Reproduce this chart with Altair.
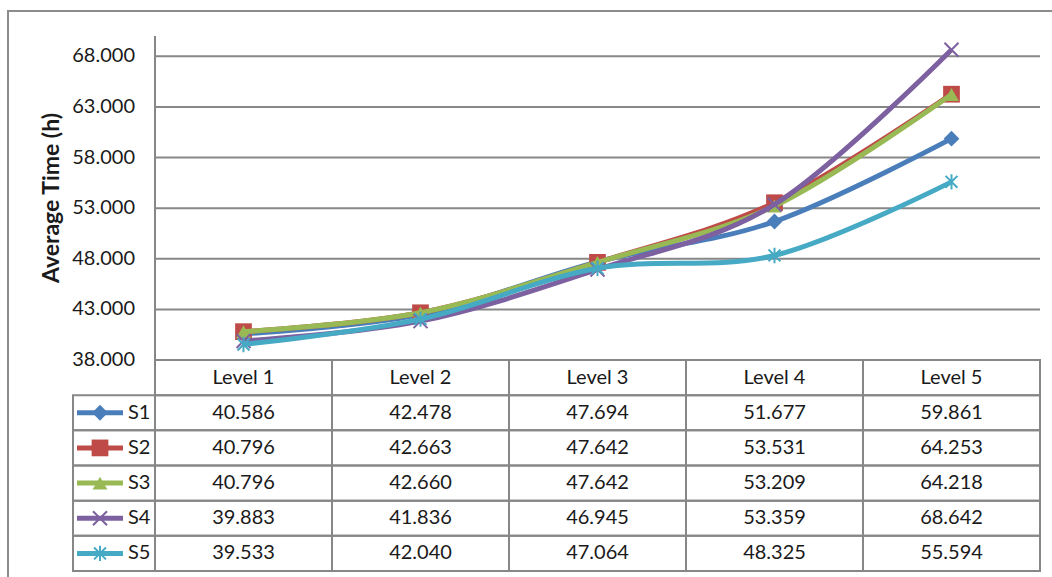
import altair as alt
import pandas as pd

# ---- data -------------------------------------------------------------
levels = ["Level 1", "Level 2", "Level 3", "Level 4", "Level 5"]
series = ["S1", "S2", "S3", "S4", "S5"]
s1 = [40.586, 42.478, 47.694, 51.677, 59.861]
s2 = [40.796, 42.663, 47.642, 53.531, 64.253]
s3 = [40.796, 42.660, 47.642, 53.209, 64.218]
s4 = [39.883, 41.836, 46.945, 53.359, 68.642]
s5 = [39.533, 42.040, 47.064, 48.325, 55.594]
y_ticks = [38, 43, 48, 53, 58, 63, 68]
y_title = "Average Time (h)"

colors = ["#4A7EBB", "#BE4B48", "#98B954", "#7D60A0", "#46AAC5"]
X_PATH = "M-1,-1L1,1M1,-1L-1,1"
STAR_PATH = "M-0.85,-0.85L0.85,0.85M0.85,-0.85L-0.85,0.85M0,-1.1L0,1.1"
markers = [
    dict(shape="diamond", filled=True, size=250),
    dict(shape="square", filled=True, size=280),
    dict(shape="triangle-up", filled=True, size=220),
    dict(shape=X_PATH, filled=False, size=196, strokeWidth=2),
    dict(shape=STAR_PATH, filled=False, size=196, strokeWidth=2),
]

values = [s1, s2, s3, s4, s5]
rows = []
for s, vals in zip(series, values):
    for i, (lv, v) in enumerate(zip(levels, vals)):
        rows.append({"series": s, "level": lv, "idx": i + 1, "value": v})
long_df = pd.DataFrame(rows)
ticks_df = pd.DataFrame({"v": y_ticks})
header_df = pd.DataFrame({"level": levels, "idx": range(1, len(levels) + 1), "row": [""] * len(levels)})
legend_df = pd.DataFrame({"series": series, "row": series})

# ---- layout -----------------------------------------------------------
W, H = 967, 535          # plot + data table
PLOT_H = 324             # height of the line area
LEGEND_COL = 82 / 177    # legend column width in level-column units
X_MIN = 0.5 - LEGEND_COL
FONT = "Lato"
GRID = "#878787"
TEXT = "#1a1a1a"

x_scale = alt.Scale(domain=[X_MIN, len(levels) + 0.5], nice=False, zero=False)
v_scale = alt.Scale(domain=[38, 70], range=[PLOT_H, 0], nice=False, zero=False)
row_scale = alt.Scale(type="band", domain=[""] + series, range=[PLOT_H, H],
                      paddingInner=0, paddingOuter=0)

layers = []

# outer frame of the chart
frame = alt.Chart(pd.DataFrame({"k": [0]})).mark_rect(
    fill="transparent", stroke="#8c8c8c", strokeWidth=2
).encode(x=alt.value(-65), x2=alt.value(W + 40), y=alt.value(-25), y2=alt.value(H + 40))
layers.append(frame)

# horizontal gridlines
grid = alt.Chart(ticks_df).mark_rule(color=GRID, strokeWidth=2).encode(
    x=alt.XDatum(0.5, type="quantitative", scale=x_scale, axis=None),
    x2=alt.X2Datum(len(levels) + 0.5),
    y=alt.Y("v:Q", scale=v_scale, axis=None),
)
layers.append(grid)

# vertical axis line
axis_line = alt.Chart(pd.DataFrame({"k": [0]})).mark_rule(color=GRID, strokeWidth=2).encode(
    x=alt.XDatum(0.5, type="quantitative", scale=x_scale, axis=None),
    y=alt.YDatum(38, type="quantitative", scale=v_scale, axis=None),
    y2=alt.Y2Datum(70),
)
layers.append(axis_line)

# tick labels
tick_labels = alt.Chart(ticks_df).mark_text(
    align="right", baseline="middle", dx=-20, font=FONT, fontSize=20, color=TEXT
).encode(
    x=alt.XDatum(0.5, type="quantitative", scale=x_scale, axis=None),
    y=alt.Y("v:Q", scale=v_scale, axis=None),
    text=alt.Text("v:Q", format=".3f"),
)
layers.append(tick_labels)

# axis title
title = alt.Chart(pd.DataFrame({"t": [y_title]})).mark_text(
    angle=270, align="center", baseline="middle", font=FONT, fontSize=23,
    fontWeight="bold", color=TEXT
).encode(x=alt.value(-21), y=alt.value(PLOT_H / 2), text="t:N")
layers.append(title)

# table cells
cell_style = dict(fill="transparent", stroke=GRID, strokeWidth=2)
header_cells = alt.Chart(header_df).transform_calculate(
    x0="datum.idx - 0.5", x1="datum.idx + 0.5"
).mark_rect(**cell_style).encode(
    x=alt.X("x0:Q", scale=x_scale, axis=None), x2="x1:Q",
    y=alt.Y("row:N", scale=row_scale, axis=None),
)
layers.append(header_cells)

data_cells = alt.Chart(long_df).transform_calculate(
    x0="datum.idx - 0.5", x1="datum.idx + 0.5"
).mark_rect(**cell_style).encode(
    x=alt.X("x0:Q", scale=x_scale, axis=None), x2="x1:Q",
    y=alt.Y("series:N", scale=row_scale, axis=None),
)
layers.append(data_cells)

legend_cells = alt.Chart(legend_df).mark_rect(**cell_style).encode(
    x=alt.XDatum(X_MIN, type="quantitative", scale=x_scale, axis=None),
    x2=alt.X2Datum(0.5),
    y=alt.Y("row:N", scale=row_scale, axis=None),
)
layers.append(legend_cells)

# table text
txt = dict(align="center", baseline="middle", font=FONT, fontSize=20, color=TEXT)
header_text = alt.Chart(header_df).mark_text(**txt).encode(
    x=alt.X("idx:Q", scale=x_scale, axis=None),
    y=alt.Y("row:N", scale=row_scale, axis=None, bandPosition=0.5),
    text="level:N",
)
layers.append(header_text)

value_text = alt.Chart(long_df).mark_text(**txt).encode(
    x=alt.X("idx:Q", scale=x_scale, axis=None),
    y=alt.Y("series:N", scale=row_scale, axis=None, bandPosition=0.5),
    text=alt.Text("value:Q", format=".3f"),
)
layers.append(value_text)

legend_text = alt.Chart(legend_df).mark_text(
    align="left", baseline="middle", font=FONT, fontSize=20, color=TEXT
).encode(
    x=alt.value(55),
    y=alt.Y("row:N", scale=row_scale, axis=None, bandPosition=0.5),
    text="series:N",
)
layers.append(legend_text)

# series: line + markers, each drawn over the previous one
for s, col, mk in zip(series, colors, markers):
    sub = alt.Chart(long_df).transform_filter(alt.datum.series == s)
    line = sub.mark_line(color=col, strokeWidth=5, interpolate="cardinal").encode(
        x=alt.X("idx:Q", scale=x_scale, axis=None),
        y=alt.Y("value:Q", scale=v_scale, axis=None),
    )
    pt_kw = dict(color=col, opacity=1, **mk)
    pts = sub.mark_point(**pt_kw).encode(
        x=alt.X("idx:Q", scale=x_scale, axis=None),
        y=alt.Y("value:Q", scale=v_scale, axis=None),
    )
    leg = alt.Chart(legend_df).transform_filter(alt.datum.series == s)
    leg_line = leg.mark_rule(color=col, strokeWidth=5).encode(
        x=alt.value(4), x2=alt.value(50),
        y=alt.Y("row:N", scale=row_scale, axis=None, bandPosition=0.5),
    )
    leg_pt = leg.mark_point(**pt_kw).encode(
        x=alt.value(27),
        y=alt.Y("row:N", scale=row_scale, axis=None, bandPosition=0.5),
    )
    layers += [line, pts, leg_line, leg_pt]

chart = alt.layer(*layers).resolve_scale(y="independent").properties(
    width=W, height=H,
    autosize=alt.AutoSizeParams(type="none"),
    padding={"left": 73, "top": 36, "right": 12, "bottom": 6},
    background="white",
).configure_view(stroke=None)

chart.save("out.html", embed_options={"renderer": "svg", "actions": False})
